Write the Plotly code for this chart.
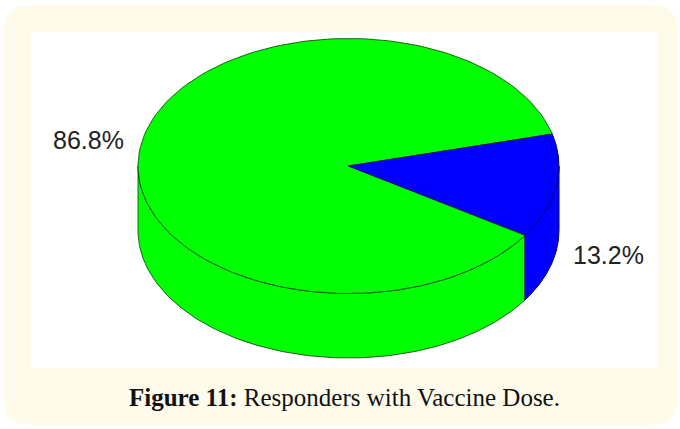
import numpy as np
import plotly.graph_objects as go

labels = ["86.8%", "13.2%"]
shares = [86.8, 13.2]
slice_colors = ["#00ff00", "#0000ff"]
edge_colors = ["rgba(15,70,15,0.85)", "#000080"]
caption_head = "Figure 11:"
caption_text = "Responders with Vaccine Dose."

# pie geometry in page pixels
CX, CY = 348.5, 166
RX, RY = 210.5, 127.5
DEPTH = 64.5
START_DEG = 14.5  # blue slice starts here and runs clockwise


def arc(a0, a1, depth=0):
    t = np.radians(np.linspace(a0, a1, 160))
    return CX + RX * np.cos(t), CY - RY * np.sin(t) + depth


def wedge(a0, a1, color, edge):
    x, y = arc(a0, a1)
    return go.Scatter(
        x=[CX, *x, CX], y=[CY, *y, CY], mode="lines", fill="toself", fillcolor=color,
        line=dict(color=edge, width=1), hoverinfo="skip",
    )


def wall(a0, a1, color, edge):
    # only the front of the cylinder (180..360 deg) is visible
    x0, y0 = arc(a0, a1)
    x1, y1 = arc(a1, a0, DEPTH)
    return go.Scatter(
        x=[*x0, *x1, x0[0]], y=[*y0, *y1, y0[0]], mode="lines", fill="toself", fillcolor=color,
        line=dict(color=edge, width=1), hoverinfo="skip",
    )


blue_sweep = shares[1] / sum(shares) * 360
blue_end = START_DEG - blue_sweep

fig = go.Figure()
fig.add_trace(wall(-180, blue_end, slice_colors[0], edge_colors[0]))
fig.add_trace(wall(blue_end, 0, slice_colors[1], edge_colors[1]))
fig.add_trace(wedge(START_DEG, blue_end + 360, slice_colors[0], edge_colors[0]))
fig.add_trace(wedge(blue_end, START_DEG, slice_colors[1], edge_colors[1]))

fig.add_annotation(x=88, y=140, text=labels[0], showarrow=False,
                   font=dict(family="Liberation Sans", size=25, color="#222222"))
fig.add_annotation(x=608, y=255, text=labels[1], showarrow=False,
                   font=dict(family="Liberation Sans", size=25, color="#222222"))
fig.add_annotation(x=344, y=397, showarrow=False,
                   text=f"<b>{caption_head}</b> {caption_text}",
                   font=dict(family="Liberation Serif", size=25, color="#111111"))

card = "M 30 5 H 652 Q 678 5 678 31 V 399 Q 678 425 652 425 H 30 Q 4 425 4 399 V 31 Q 4 5 30 5 Z"
fig.update_layout(
    width=680, height=429, margin=dict(l=0, r=0, t=0, b=0),
    paper_bgcolor="white", plot_bgcolor="rgba(0,0,0,0)", showlegend=False,
    xaxis=dict(range=[0, 680], visible=False, fixedrange=True),
    yaxis=dict(range=[429, 0], visible=False, fixedrange=True),
    shapes=[
        dict(type="path", path=card, fillcolor="#fffbeb", line_width=0, layer="below"),
        dict(type="rect", x0=31, x1=657, y0=32, y1=368, fillcolor="white", line_width=0, layer="below"),
    ],
)

fig.write_html("out.html", config=dict(displayModeBar=False),
               post_script="document.body.style.margin='0';")
